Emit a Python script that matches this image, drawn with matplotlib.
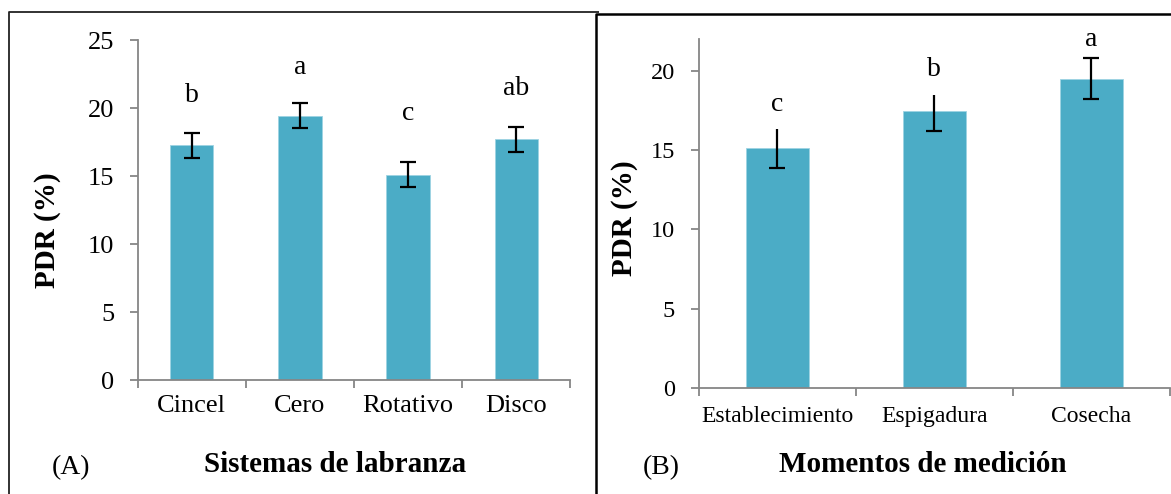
import matplotlib.pyplot as plt
from matplotlib.lines import Line2D
import numpy as np

plt.rcParams['font.family'] = 'Liberation Serif'

# (A) tillage systems
sistemas = ['Cincel', 'Cero', 'Rotativo', 'Disco']
pdr_sistemas = [17.26, 19.44, 15.1, 17.7]
err_sistemas = [0.9, 0.9, 0.9, 0.9]
letras_sistemas = ['b', 'a', 'c', 'ab']
letras_sistemas_y = [20.45, 22.5, 19.15, 20.95]

# (B) measurement moments
momentos = ['Establecimiento', 'Espigadura', 'Cosecha']
pdr_momentos = [15.16, 17.49, 19.52]
err_momentos_lo = [1.27, 1.27, 1.27]
err_momentos_hi = [1.17, 1.0, 1.27]
letras_momentos = ['c', 'b', 'a']
letras_momentos_y = [17.5, 19.7, 21.6]

bar_color = '#4BACC6'
axis_color = '#868686'

fig = plt.figure(figsize=(11.71, 4.94), dpi=100)
W, H = 1171, 494


def px_axes(x0, x1, ytop, ybot):
    return fig.add_axes([x0 / W, 1 - ybot / H, (x1 - x0) / W, (ybot - ytop) / H])


def style_axes(ax, n, tick_fs, cat_fs, cat_pad):
    for s in ['top', 'right']:
        ax.spines[s].set_visible(False)
    for s in ['left', 'bottom']:
        ax.spines[s].set_color(axis_color)
        ax.spines[s].set_linewidth(1.3)
    ax.set_xlim(-0.5, n - 0.5)
    ax.set_xticks(np.arange(-0.5, n, 1.0), minor=True)
    ax.tick_params(axis='x', which='major', length=0, labelsize=cat_fs, pad=cat_pad)
    ax.tick_params(axis='x', which='minor', length=6, width=1.3, color=axis_color, direction='out')
    ax.tick_params(axis='y', length=6, width=1.3, color=axis_color, labelsize=tick_fs, pad=11)


# panel A
axA = px_axes(137.8, 570.2, 40, 380)
xa = np.arange(len(sistemas))
axA.bar(xa, pdr_sistemas, width=0.4, color=bar_color, edgecolor='#9ed3e2', linewidth=0.6)
axA.errorbar(xa, pdr_sistemas, yerr=err_sistemas, fmt='none', ecolor='black',
             elinewidth=1.6, capsize=6, capthick=1.6)
for x, lab, y in zip(xa, letras_sistemas, letras_sistemas_y):
    axA.text(x, y, lab, ha='center', va='baseline', fontsize=20)
axA.set_ylim(0, 25)
axA.set_yticks([0, 5, 10, 15, 20, 25])
axA.set_xticks(xa)
axA.set_xticklabels(sistemas)
style_axes(axA, len(sistemas), 19, 19, 11)

# panel B
axB = px_axes(698.6, 1169.8, 39.3, 387.7)
xb = np.arange(len(momentos))
axB.bar(xb, pdr_momentos, width=0.4, color=bar_color, edgecolor='#9ed3e2', linewidth=0.6)
axB.vlines(xb, np.array(pdr_momentos) - np.array(err_momentos_lo),
           np.array(pdr_momentos) + np.array(err_momentos_hi), color='black', lw=1.6)
axB.plot(xb, np.array(pdr_momentos) - np.array(err_momentos_lo), ls='none',
         marker='_', ms=12, mew=1.6, color='black')
axB.plot(xb[2:], (np.array(pdr_momentos) + np.array(err_momentos_hi))[2:], ls='none',
         marker='_', ms=12, mew=1.6, color='black')
for x, lab, y in zip(xb, letras_momentos, letras_momentos_y):
    axB.text(x, y, lab, ha='center', va='baseline', fontsize=20)
axB.set_ylim(0, 22)
axB.set_yticks([0, 5, 10, 15, 20])
axB.set_xticks(xb)
axB.set_xticklabels(momentos)
style_axes(axB, len(momentos), 17.5, 17, 13)

# axis titles and panel tags
fig.text(47.8 / W, 1 - 230 / H, 'PDR (%)', rotation=90, ha='center', va='center',
         fontsize=21, fontweight='bold')
fig.text(625 / W, 1 - 218 / H, 'PDR (%)', rotation=90, ha='center', va='center',
         fontsize=21, fontweight='bold')
fig.text(335 / W, 1 - 465 / H, 'Sistemas de labranza', ha='center', va='center',
         fontsize=21, fontweight='bold')
fig.text(923 / W, 1 - 465 / H, 'Momentos de medición', ha='center', va='center',
         fontsize=21, fontweight='bold')
fig.text(71 / W, 1 - 468 / H, '(A)', ha='center', va='center', fontsize=20)
fig.text(661 / W, 1 - 468 / H, '(B)', ha='center', va='center', fontsize=20)

# frames around both panels
def frame(xs, ys, lw, color):
    fig.add_artist(Line2D(np.array(xs) / W, 1 - np.array(ys) / H, lw=lw, color=color,
                          transform=fig.transFigure, solid_capstyle='butt'))

frame([9, 9, 599], [494, 11.7, 11.7], 1.3, '#222222')
frame([595.5, 595.5, 1171], [494, 14, 14], 1.8, 'black')

fig.savefig('out.png', dpi=100)
